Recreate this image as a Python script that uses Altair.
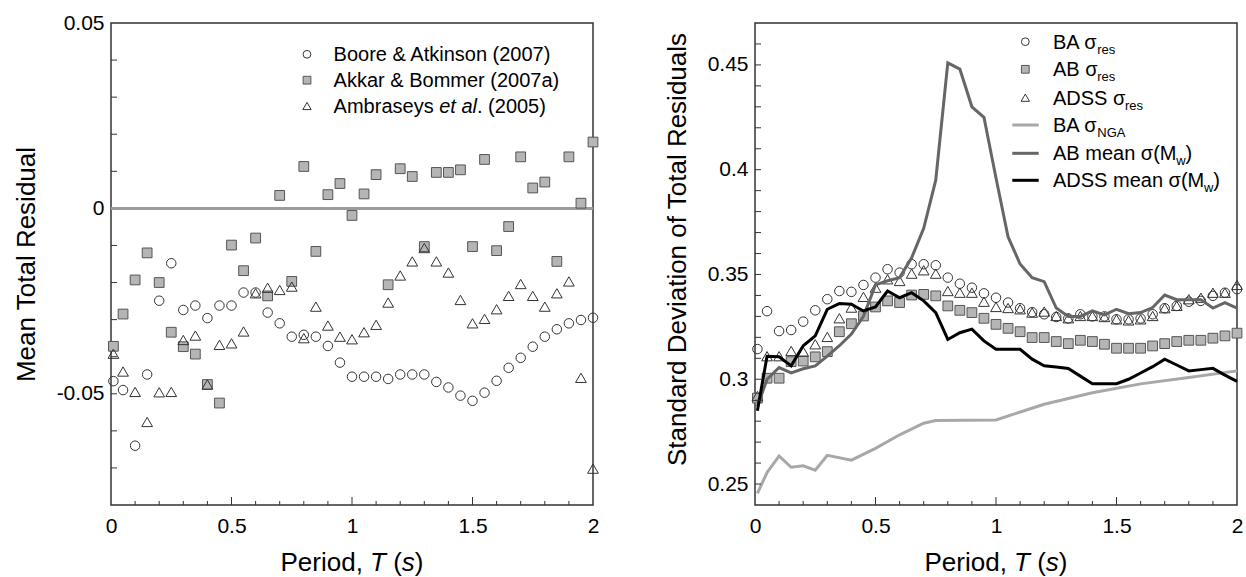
import altair as alt
import pandas as pd

FONT = "Liberation Sans"
W, H = 482, 482

# ---------------- data ----------------
periods = [0.01, 0.05, 0.1, 0.15, 0.2, 0.25, 0.3, 0.35, 0.4, 0.45,
           0.5, 0.55, 0.6, 0.65, 0.7, 0.75, 0.8, 0.85, 0.9, 0.95,
           1.0, 1.05, 1.1, 1.15, 1.2, 1.25, 1.3, 1.35, 1.4, 1.45,
           1.5, 1.55, 1.6, 1.65, 1.7, 1.75, 1.8, 1.85, 1.9, 1.95, 2.0]

# left panel: mean total residual
ba_mean = [-0.0466, -0.049, -0.064, -0.0448, -0.0249, -0.0148, -0.0274, -0.0262, -0.0296, -0.0262,
           -0.0262, -0.0227, -0.0227, -0.0281, -0.0310, -0.0346, -0.0341, -0.0346, -0.0371, -0.0416,
           -0.0454, -0.0454, -0.0454, -0.046, -0.0448, -0.0448, -0.0448, -0.0468, -0.0483, -0.0505,
           -0.0519, -0.0497, -0.0465, -0.043, -0.0403, -0.0373, -0.0346, -0.0326, -0.031, -0.0301,
           -0.0295]
ab_mean = [-0.0372, -0.0285, -0.0193, -0.012, -0.020, -0.0334, -0.0373, -0.0393, -0.0475, -0.0525,
           -0.0099, -0.0168, -0.0080, -0.0236, 0.0035, -0.0197, 0.0113, -0.0116, 0.0037, 0.0067,
           -0.0019, 0.0039, 0.0091, -0.0206, 0.0107, 0.0086, -0.0103, 0.0097, 0.0097, 0.0104,
           -0.0103, 0.0132, -0.0114, -0.0049, 0.0139, 0.0055, 0.0071, -0.0143, 0.0139, 0.0014,
           0.0179]
adss_mean = [-0.0392, -0.044, -0.0495, -0.0576, -0.0496, -0.0495, -0.0355, -0.0343, -0.0475, -0.0368,
             -0.0364, -0.0332, -0.0229, -0.0214, -0.022, -0.0211, -0.035, -0.0265, -0.0316, -0.0346,
             -0.0353, -0.0334, -0.0314, -0.0254, -0.0181, -0.0143, -0.0107, -0.0143, -0.0173, -0.0247,
             -0.031, -0.0298, -0.0272, -0.0236, -0.0204, -0.0236, -0.0265, -0.0229, -0.0197, -0.0457,
             -0.0702]

# right panel: standard deviation of total residuals
ba_sd = [0.3144, 0.3325, 0.323, 0.3235, 0.3275, 0.3329, 0.3382, 0.3421, 0.3417, 0.345,
         0.3485, 0.3525, 0.3509, 0.3549, 0.3549, 0.3544, 0.3485, 0.3456, 0.3437, 0.341,
         0.3389, 0.3366, 0.3339, 0.332, 0.331, 0.3297, 0.329, 0.331, 0.330, 0.330,
         0.3286, 0.3286, 0.329, 0.331, 0.3339, 0.335, 0.337, 0.3374, 0.3398, 0.3413,
         0.343]
ab_sd = [0.291, 0.3005, 0.3005, 0.3084, 0.3087, 0.3107, 0.3132, 0.3227, 0.3265, 0.3302,
         0.3345, 0.3374, 0.3366, 0.3402, 0.3405, 0.3398, 0.335, 0.3329, 0.3318, 0.3291,
         0.3262, 0.3243, 0.3227, 0.3199, 0.3199, 0.318, 0.317, 0.3186, 0.318, 0.3167,
         0.3148, 0.3148, 0.3148, 0.3159, 0.317, 0.318, 0.3186, 0.3186, 0.3196, 0.3207,
         0.322]
adss_sd = [0.292, 0.311, 0.311, 0.3135, 0.3132, 0.3167, 0.3202, 0.3291, 0.3342, 0.3393,
           0.3437, 0.3477, 0.3469, 0.3504, 0.352, 0.3504, 0.3421, 0.3413, 0.3413, 0.337,
           0.3345, 0.334, 0.3334, 0.3318, 0.3323, 0.3302, 0.3291, 0.3302, 0.3302, 0.3297,
           0.3286, 0.3281, 0.3286, 0.3302, 0.3339, 0.335, 0.3382, 0.3389, 0.3413, 0.3413,
           0.345]
ab_sigma_mw = [0.287, 0.300, 0.3056, 0.303, 0.305, 0.3064, 0.311, 0.316, 0.3216, 0.330,
               0.345, 0.347, 0.3485, 0.358, 0.372, 0.395, 0.451, 0.448, 0.430, 0.425,
               0.396, 0.368, 0.355, 0.3485, 0.3466, 0.334, 0.330, 0.330, 0.3326, 0.3307,
               0.3334, 0.3313, 0.3318, 0.3342, 0.3402, 0.338, 0.338, 0.338, 0.334, 0.3366,
               0.334]
adss_sigma_mw = [0.285, 0.311, 0.3107, 0.3064, 0.316, 0.3207, 0.3334, 0.3361, 0.3358, 0.3326,
                 0.3345, 0.3421, 0.3389, 0.3413, 0.3374, 0.3318, 0.319, 0.3222, 0.3239, 0.3183,
                 0.3143, 0.3143, 0.3143, 0.3096, 0.3064, 0.3058, 0.3051, 0.3015, 0.2979, 0.2979,
                 0.2979, 0.300, 0.303, 0.306, 0.3096, 0.3068, 0.304, 0.3046, 0.3052, 0.302,
                 0.299]
nga_periods = [0.01, 0.05, 0.1, 0.15, 0.2, 0.25, 0.3, 0.4, 0.5, 0.6, 0.7, 0.75, 1.0,
               1.2, 1.4, 1.6, 1.8, 2.0]
ba_sigma_nga = [0.2455, 0.2555, 0.2634, 0.258, 0.2587, 0.2566, 0.2637, 0.2614, 0.267, 0.2735,
                0.279, 0.2803, 0.2806, 0.2881, 0.2936, 0.2978, 0.3008, 0.304]

# axes
x_labels = [0, 0.5, 1, 1.5, 2]
x_major_ticks = [0.5, 1.0, 1.5]
x_minor_ticks = [0.1, 0.2, 0.3, 0.4, 0.6, 0.7, 0.8, 0.9, 1.1, 1.2, 1.3, 1.4, 1.6, 1.7, 1.8, 1.9]
left_y_labels = [-0.05, 0, 0.05]
left_y_ticks = [-0.07, -0.06, -0.05, -0.04, -0.03, -0.02, -0.01, 0.01, 0.02, 0.03, 0.04]
right_y_labels = [0.25, 0.3, 0.35, 0.4, 0.45]
right_y_ticks = [0.25, 0.26, 0.27, 0.28, 0.29, 0.3, 0.31, 0.32, 0.33, 0.34, 0.35, 0.36,
                 0.37, 0.38, 0.39, 0.4, 0.41, 0.42, 0.43, 0.44, 0.45, 0.46]
left_domain = [-0.08, 0.05]
right_domain = [0.24, 0.47]

# legend texts: list of (text, style) segments ; "sub" = subscript
left_legend = [
    [("Boore & Atkinson (2007)", "normal")],
    [("Akkar & Bommer (2007a)", "normal")],
    [("Ambraseys ", "normal"), ("et al", "italic"), (". (2005)", "normal")],
]
right_legend = [
    [("BA σ", "normal"), ("res", "sub")],
    [("AB σ", "normal"), ("res", "sub")],
    [("ADSS σ", "normal"), ("res", "sub")],
    [("BA σ", "normal"), ("NGA", "sub")],
    [("AB mean σ(M", "normal"), ("w", "sub"), (")", "normal")],
    [("ADSS mean σ(M", "normal"), ("w", "sub"), (")", "normal")],
]
x_title = [("Period, ", "normal"), ("T", "italic"), (" (", "normal"), ("s", "italic"), (")", "normal")]

# ---------------- helpers ----------------
AW = {' ': 278, '(': 333, ')': 333, ',': 278, '-': 333, '.': 278, '&': 667,
      'A': 667, 'B': 667, 'D': 722, 'G': 778, 'M': 833, 'N': 722, 'P': 667, 'R': 722,
      'S': 667, 'T': 611, 'a': 556, 'b': 556, 'd': 556, 'e': 556, 'i': 222, 'k': 500,
      'l': 222, 'm': 833, 'n': 556, 'o': 556, 'r': 333, 's': 500, 't': 278, 'u': 556,
      'v': 500, 'w': 722, 'y': 500, 'σ': 600}


def tw(s, size):
    return sum(AW.get(c, 556) for c in s) * size / 1000.0


def segments(parts, x0, y0, size, sub_size=13, sub_dy=5):
    rows = []
    x = x0
    for txt, style in parts:
        fs = sub_size if style == "sub" else size
        lead = len(txt) - len(txt.lstrip(" "))
        x += tw(" " * lead, fs)
        body = txt.strip(" ")
        if body:
            rows.append(dict(px=x, py=y0 + (sub_dy if style == "sub" else 0), text=body, fs=fs,
                             st="italic" if style == "italic" else "normal"))
        x += tw(txt.lstrip(" "), fs)
    return rows


def text_layers(rows):
    df = pd.DataFrame(rows)
    out = []
    for st in ["normal", "italic"]:
        sub = df[df.st == st]
        if len(sub) == 0:
            continue
        out.append(
            alt.Chart(sub).mark_text(align="left", baseline="alphabetic", font=FONT,
                                     fontStyle=st, color="black")
            .encode(x=alt.X("px:Q", scale=None),
                    y=alt.Y("py:Q", scale=None),
                    text="text:N",
                    size=alt.Size("fs:Q", scale=None, legend=None))
        )
    return out


x_scale = alt.Scale(domain=[0, 2], nice=False, zero=False)
x_axis = alt.Axis(values=x_labels, format="~g", labelFlush=False, labelOverlap=False,
                  ticks=False, tickSize=0, domain=False, grid=False, labelFont=FONT,
                  labelFontSize=21, labelColor="black", labelPadding=10, title=None)


def y_axis(values, title, extent, tpad, expr, **extra):
    return alt.Axis(values=values, labelExpr=expr, ticks=False, tickSize=0, domain=False,
                    grid=False, labelFont=FONT, labelFontSize=21, labelColor="black",
                    labelPadding=7, title=title, titleFont=FONT, titleFontSize=26,
                    titleFontWeight="normal", titleColor="black", titlePadding=tpad,
                    minExtent=extent, maxExtent=extent, labelOverlap=False, **extra)


def X(field):
    return alt.X(field, type="quantitative", scale=x_scale, axis=x_axis)


def tick_layers():
    maj = alt.Chart(pd.DataFrame({"T": x_major_ticks})).mark_rule(color="#333", strokeWidth=1).encode(
        x=X("T"), y=alt.value(H), y2=alt.value(H - 8))
    mino = alt.Chart(pd.DataFrame({"T": x_minor_ticks})).mark_rule(color="#333", strokeWidth=1).encode(
        x=X("T"), y=alt.value(H), y2=alt.value(H - 4))
    return [maj, mino]


def ytick_layer(Yf, yticks):
    return alt.Chart(pd.DataFrame({"v": yticks})).mark_rule(color="#333", strokeWidth=1).encode(
        y=Yf("v"), x=alt.value(0), x2=alt.value(6))


def title_layers():
    total = sum(tw(t, 26) for t, _ in x_title)
    return text_layers(segments(x_title, W / 2 - total / 2, H + 66, 26))


SQ, CI, TR = 95, 90, 115
LSQ, LCI, LTR = 60, 60, 70

# ---------------- left panel ----------------
yL = alt.Scale(domain=left_domain, nice=False, zero=False)
left_expr = "datum.value < 0 ? '-' + format(-datum.value, '.2~f') : format(datum.value, '.2~f')"
yL_axis = y_axis(left_y_labels, "Mean Total Residual", 58, 14, left_expr)


def YL(field):
    return alt.Y(field, type="quantitative", scale=yL, axis=yL_axis)


left_df = pd.DataFrame({"T": periods, "ba": ba_mean, "ab": ab_mean, "adss": adss_mean})

zero = alt.Chart(pd.DataFrame({"T": [0, 2], "z": [0, 0]})).mark_rule(
    color="#9c9c9c", strokeWidth=3).encode(y=YL("z"), x=alt.value(0), x2=alt.value(W))
base_l = alt.Chart(left_df)
sq_l = base_l.mark_point(shape="square", filled=True, fill="#b5b5b5", stroke="#555",
                         strokeWidth=1, size=SQ, opacity=1).encode(x=X("T"), y=YL("ab"))
ci_l = base_l.mark_point(shape="circle", filled=False, stroke="#333", strokeWidth=1,
                         size=CI, opacity=1).encode(x=X("T"), y=YL("ba"))
tr_l = base_l.mark_point(shape="triangle-up", filled=False, stroke="#333", strokeWidth=1,
                         size=TR, opacity=1).encode(x=X("T"), y=YL("adss"))


def legend_symbols(sx, rows):
    out = []
    for shape, filled, ry, sz in [("circle", False, rows[0], LCI), ("square", True, rows[1], LSQ),
                                  ("triangle-up", False, rows[2], LTR)]:
        kw = dict(shape=shape, filled=filled, stroke="#333" if not filled else "#555",
                  strokeWidth=1, size=sz, opacity=1)
        if filled:
            kw["fill"] = "#b5b5b5"
        out.append(alt.Chart(pd.DataFrame({"a": [0]})).mark_point(**kw).encode(
            x=alt.value(sx), y=alt.value(ry)))
    return out


lrows = [31.3, 57.2, 83.0]
leg_txt_rows_l = []
for parts, ry in zip(left_legend, lrows):
    leg_txt_rows_l += segments(parts, 222.6, ry + 7, 20)

left = alt.layer(zero, sq_l, ci_l, tr_l, *tick_layers(), ytick_layer(YL, left_y_ticks),
                 *legend_symbols(196, lrows), *text_layers(leg_txt_rows_l), *title_layers()
                 ).properties(width=W, height=H)

# ---------------- right panel ----------------
yR = alt.Scale(domain=right_domain, nice=False, zero=False)
right_expr = "format(datum.value, '.2~f')"
yR_axis = y_axis(right_y_labels, "Standard Deviation of Total Residuals", 51, 14, right_expr,
                 titleY=226)


def YR(field):
    return alt.Y(field, type="quantitative", scale=yR, axis=yR_axis)


right_df = pd.DataFrame({"T": periods, "ba": ba_sd, "ab": ab_sd, "adss": adss_sd,
                         "abm": ab_sigma_mw, "adssm": adss_sigma_mw})
nga_df = pd.DataFrame({"T": nga_periods, "v": ba_sigma_nga})

base_r = alt.Chart(right_df)
sq_r = base_r.mark_point(shape="square", filled=True, fill="#b5b5b5", stroke="#555",
                         strokeWidth=1, size=SQ, opacity=1).encode(x=X("T"), y=YR("ab"))
ci_r = base_r.mark_point(shape="circle", filled=False, stroke="#333", strokeWidth=1,
                         size=CI, opacity=1).encode(x=X("T"), y=YR("ba"))
tr_r = base_r.mark_point(shape="triangle-up", filled=False, stroke="#333", strokeWidth=1,
                         size=TR, opacity=1).encode(x=X("T"), y=YR("adss"))
nga_line = alt.Chart(nga_df).mark_line(color="#a8a8a8", strokeWidth=3).encode(x=X("T"), y=YR("v"))
ab_line = base_r.mark_line(color="#666666", strokeWidth=3).encode(x=X("T"), y=YR("abm"))
adss_line = base_r.mark_line(color="#000000", strokeWidth=3).encode(x=X("T"), y=YR("adssm"))

rrows = [18.7, 46.3, 74.7, 102.0, 130.3, 157.3]
leg_r = legend_symbols(270.3, rrows)
for col, ry in [("#a8a8a8", rrows[3]), ("#666666", rrows[4]), ("#000000", rrows[5])]:
    leg_r.append(alt.Chart(pd.DataFrame({"a": [0]})).mark_rule(color=col, strokeWidth=3).encode(
        x=alt.value(257.3), x2=alt.value(283.7), y=alt.value(ry)))
leg_txt_rows_r = []
for parts, ry in zip(right_legend, rrows):
    leg_txt_rows_r += segments(parts, 298, ry + 7, 20)

right = alt.layer(sq_r, ci_r, tr_r, nga_line, ab_line, adss_line,
                  *tick_layers(), ytick_layer(YR, right_y_ticks), *leg_r,
                  *text_layers(leg_txt_rows_r), *title_layers()).properties(width=W, height=H)

chart = alt.hconcat(left, right, spacing=61).properties(
    padding={"left": 12, "top": 11, "right": 0, "bottom": 0}, background="white"
).configure_view(stroke="#333", strokeWidth=1.5)

chart.save("out.html", embed_options={"renderer": "svg", "actions": False})
